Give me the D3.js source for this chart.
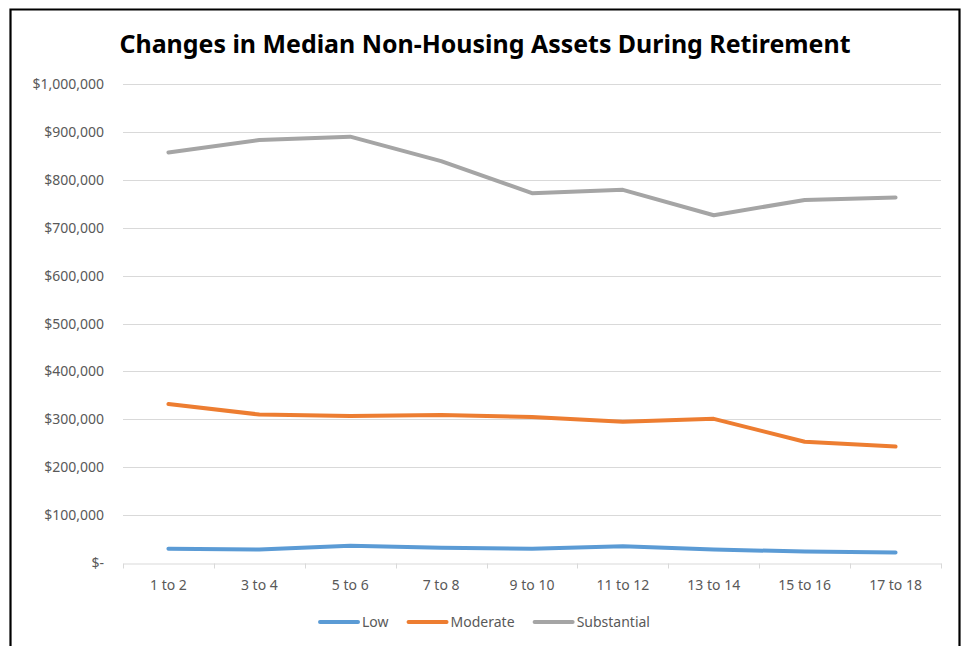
<!DOCTYPE html>
<html>
<head>
<meta charset="utf-8">
<script src="https://cdn.jsdelivr.net/npm/d3@7"></script>
<style>
  body { margin: 0; background: #fff; }
  svg { display: block; }
  text { font-family: "Noto Sans", "Open Sans", sans-serif; fill: #595959; }
</style>
</head>
<body>
<script>
// Chart data
var categories = ["1 to 2", "3 to 4", "5 to 6", "7 to 8", "9 to 10", "11 to 12", "13 to 14", "15 to 16", "17 to 18"];
var lowValues = [30000, 28000, 36000, 32000, 30000, 35000, 28000, 24000, 22000];
var moderateValues = [332000, 310000, 307000, 309000, 305000, 295000, 301000, 253000, 243000];
var substantialValues = [857000, 883000, 890000, 839000, 772000, 779000, 726000, 758000, 763000];
var seriesNames = ["Low", "Moderate", "Substantial"];
var yTicks = [0, 100000, 200000, 300000, 400000, 500000, 600000, 700000, 800000, 900000, 1000000];

var w = 963;
var h = 646;
var colors = ["#5b9bd5", "#ed7d31", "#a5a5a5"];
var margin = { left: 123, right: 22, top: 84, bottom: 83 };

var series = [lowValues, moderateValues, substantialValues].map(function(vals, i) {
    return { name: seriesNames[i], color: colors[i], values: vals };
});

var svg = d3.select("body")
    .append("svg")
    .attr("width", w)
    .attr("height", h);

// outer chart frame (no bottom edge visible in the picture)
svg.append("path")
    .attr("d", "M10.5,647 L10.5,9.5 L959.5,9.5 L959.5,647")
    .attr("fill", "none")
    .attr("stroke", "#000")
    .attr("stroke-width", 2.2);

var xScale = d3.scaleBand()
    .domain(categories)
    .range([margin.left, w - margin.right]);

var yScale = d3.scaleLinear()
    .domain([0, 1000000])
    .range([h - margin.bottom, margin.top]);

// gridlines
svg.append("g")
    .selectAll("line")
    .data(yTicks.slice(1))
    .enter()
    .append("line")
    .attr("x1", margin.left)
    .attr("x2", w - margin.right)
    .attr("y1", function(d) { return Math.round(yScale(d)) + 0.5; })
    .attr("y2", function(d) { return Math.round(yScale(d)) + 0.5; })
    .attr("stroke", "#d9d9d9")
    .attr("stroke-width", 1);

// y axis labels
var fmt = d3.format(",");
svg.append("g")
    .selectAll("text")
    .data(yTicks)
    .enter()
    .append("text")
    .attr("x", 104)
    .attr("y", function(d) { return yScale(d) + 5; })
    .attr("text-anchor", "end")
    .style("font-size", "14px")
    .text(function(d) { return d === 0 ? "$-" : "$" + fmt(d); });

// x axis
var xAxis = svg.append("g")
    .attr("transform", "translate(0," + (Math.round(yScale(0)) + 0.5) + ")")
    .call(d3.axisBottom(xScale).tickSize(0).tickPadding(17));
xAxis.select(".domain").attr("stroke", "#d9d9d9");
xAxis.selectAll("text")
    .style("font-family", "\"Noto Sans\", sans-serif")
    .style("font-size", "14px")
    .attr("fill", "#595959");

// tick marks at band edges
var edges = categories.map(function(c) { return xScale(c); }).concat([xScale.range()[1]]);
xAxis.selectAll(".edge")
    .data(edges)
    .enter()
    .append("line")
    .attr("class", "edge")
    .attr("x1", function(d) { return Math.round(d) + 0.5; })
    .attr("x2", function(d) { return Math.round(d) + 0.5; })
    .attr("y1", 0)
    .attr("y2", 5)
    .attr("stroke", "#d9d9d9");

// lines
var line = d3.line()
    .x(function(d, i) { return xScale(categories[i]) + xScale.bandwidth() / 2; })
    .y(function(d) { return yScale(d); });

svg.append("g")
    .selectAll("path")
    .data(series)
    .enter()
    .append("path")
    .attr("d", function(s) { return line(s.values); })
    .attr("fill", "none")
    .attr("stroke", function(s) { return s.color; })
    .attr("stroke-width", 4)
    .attr("stroke-linecap", "round")
    .attr("stroke-linejoin", "round");

// title
svg.append("text")
    .attr("x", 485)
    .attr("y", 53)
    .attr("text-anchor", "middle")
    .attr("textLength", 731)
    .attr("lengthAdjust", "spacingAndGlyphs")
    .style("font-size", "25px")
    .style("font-weight", "bold")
    .style("fill", "#000")
    .text("Changes in Median Non-Housing Assets During Retirement");

// legend, centred on the chart area
var legend = svg.append("g");
var items = legend.selectAll("g")
    .data(series)
    .enter()
    .append("g");
items.append("line")
    .attr("x1", 0).attr("x2", 38)
    .attr("y1", 0).attr("y2", 0)
    .attr("stroke", function(s) { return s.color; })
    .attr("stroke-width", 4)
    .attr("stroke-linecap", "round");
items.append("text")
    .attr("x", 42)
    .attr("y", 5)
    .style("font-size", "14px")
    .text(function(s) { return s.name; });

var xPos = 0;
items.each(function() {
    var g = d3.select(this);
    g.attr("transform", "translate(" + xPos + ",0)");
    xPos += this.getBBox().width + 20;
});
var legendWidth = xPos - 20;
legend.attr("transform", "translate(" + (485 - legendWidth / 2) + ",622)");
</script>
</body>
</html>
